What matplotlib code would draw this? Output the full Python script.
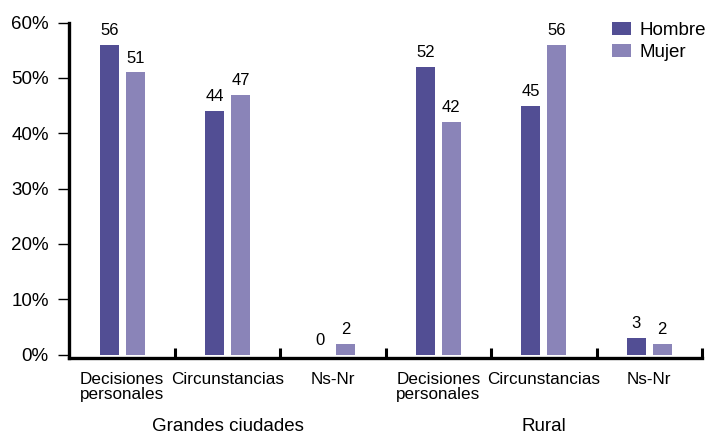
import matplotlib.pyplot as plt
import numpy as np

categories = ["Decisiones\npersonales", "Circunstancias", "Ns-Nr"] * 2
groups = ["Grandes ciudades", "Rural"]
hombre = [56, 44, 0, 52, 45, 3]
mujer = [51, 47, 2, 42, 56, 2]
yticks = [0, 10, 20, 30, 40, 50, 60]

c_h, c_m = "#524e94", "#8a84b8"
plt.rcParams["font.family"] = ["Liberation Sans", "DejaVu Sans"]

fig = plt.figure(figsize=(7.09, 4.36), dpi=100)
ax = fig.add_axes([0.098, 0.179, 0.892, 0.769])

x = np.arange(len(categories)) + 0.5
w, off = 0.18, 0.123
bh = ax.bar(x - off, hombre, w, color=c_h, label="Hombre")
bm = ax.bar(x + off, mujer, w, color=c_m, label="Mujer")
for bars, vals in ((bh, hombre), (bm, mujer)):
    for b, v in zip(bars, vals):
        ax.annotate(str(v), (b.get_x() + b.get_width() / 2, v), xytext=(0, 5),
                    textcoords="offset points", ha="center", va="bottom", fontsize=12)

ax.set_xlim(0, len(categories))
ax.set_ylim(-0.6, 60)
ax.set_yticks(yticks, [f"{t}%" for t in yticks], fontsize=13.5)
ax.set_xticks(np.arange(1, len(categories) + 1))
ax.set_xticklabels([])
ax.set_xticks(x, minor=True)
ax.set_xticklabels(categories, minor=True, fontsize=12.3, linespacing=1.05)
ax.tick_params(axis="x", which="major", direction="in", length=7, width=2.2)
ax.tick_params(axis="x", which="minor", length=0, pad=10)
ax.tick_params(axis="y", length=8, width=1, pad=7)
for s in ("top", "right"):
    ax.spines[s].set_visible(False)
for s in ("left", "bottom"):
    ax.spines[s].set_linewidth(2.4)

for i, g in enumerate(groups):
    ax.text(1.5 + 3 * i, -0.205, g, transform=ax.get_xaxis_transform(),
            ha="center", va="center", fontsize=13.5)

ax.legend(loc="upper left", bbox_to_anchor=(0.8526, 0.967), bbox_transform=fig.transFigure,
          frameon=False, fontsize=13.5, borderaxespad=0,
          handlelength=1.0, handleheight=0.7, handletextpad=0.48, labelspacing=0.28)

fig.savefig("out.png", dpi=100)
